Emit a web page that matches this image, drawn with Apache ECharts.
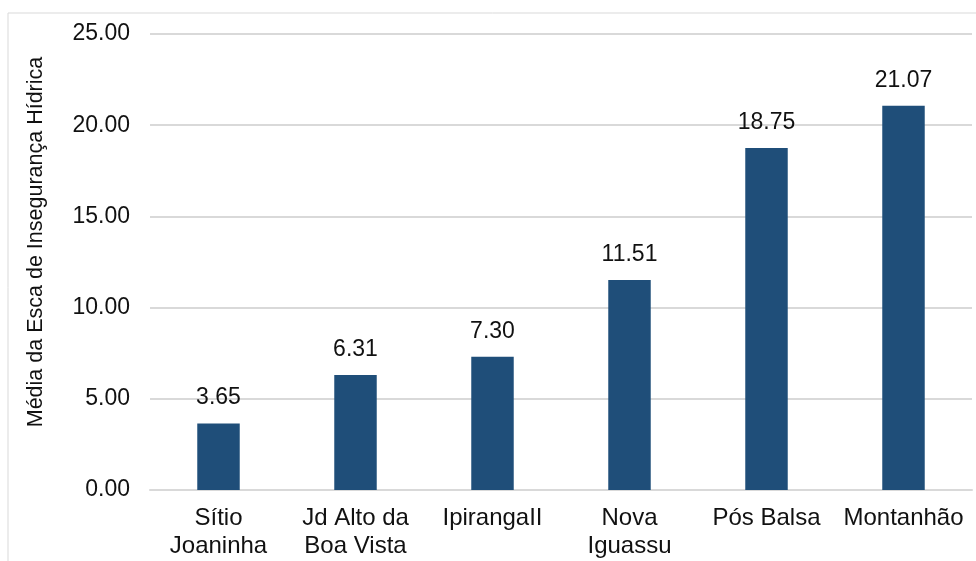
<!DOCTYPE html>
<html><head><meta charset="utf-8">
<script src="https://cdn.jsdelivr.net/npm/echarts@6/dist/echarts.min.js"></script>
<style>html,body{margin:0;padding:0;background:#fff}#c{width:976px;height:561px}</style>
</head><body><div id="c"></div>
<script>
const categories = ["Sítio\nJoaninha", "Jd Alto da\nBoa Vista", "IpirangaII", "Nova\nIguassu", "Pós Balsa", "Montanhão"];
const values = [3.65, 6.31, 7.30, 11.51, 18.75, 21.07];
const yAxisName = "Média da Esca de Insegurança Hídrica";

const chart = echarts.init(document.getElementById('c'), null, {renderer: 'canvas'});
const font = "Liberation Sans, Arial, sans-serif";
const txt = '#111';
chart.setOption({
  animation: false,
  backgroundColor: '#fff',
  graphic: [{
    type: 'rect', shape: {x: 8, y: 13, width: 1200, height: 800},
    style: {fill: 'none', stroke: '#D9D9D9', lineWidth: 1}, silent: true, z: -10
  }],
  grid: {left: 150, right: 4, top: 34, bottom: 71},
  xAxis: {
    type: 'category', data: categories,
    axisLine: {show: true, lineStyle: {color: '#D9D9D9', width: 2}},
    axisTick: {show: false},
    axisLabel: {fontFamily: font, fontSize: 24, color: txt, margin: 14, lineHeight: 28, interval: 0}
  },
  yAxis: {
    type: 'value', min: 0, max: 25, interval: 5,
    name: yAxisName, nameLocation: 'middle', nameGap: 103, nameRotate: 90,
    nameTextStyle: {fontFamily: font, fontSize: 21.5, color: txt, padding: [0, 0, 0, 40]},
    axisLine: {show: false}, axisTick: {show: false},
    axisLabel: {fontFamily: font, fontSize: 23, color: txt, margin: 20, formatter: v => v.toFixed(2)},
    splitLine: {lineStyle: {color: '#D9D9D9', width: 2}}
  },
  series: [{
    type: 'bar', data: values, barWidth: '31%',
    itemStyle: {color: '#1F4E79'},
    label: {show: true, position: 'top', distance: 14, fontFamily: font, fontSize: 23, color: txt, formatter: p => p.value.toFixed(2)}
  }]
});
</script></body></html>
